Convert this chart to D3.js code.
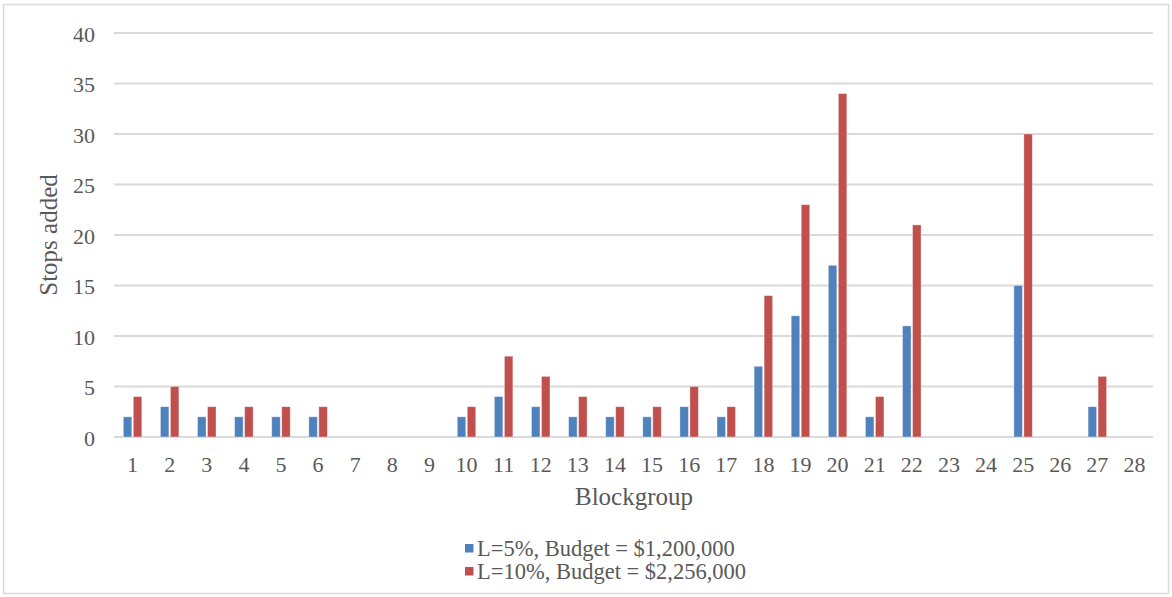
<!DOCTYPE html>
<html>
<head>
<meta charset="utf-8">
<script src="https://cdn.jsdelivr.net/npm/d3@7"></script>
<style>
  html, body { margin: 0; padding: 0; background: #fff; }
  svg { display: block; }
  text { font-family: "Liberation Serif", "Times New Roman", serif; fill: #595959; }
</style>
</head>
<body>
<svg id="chart" width="1172" height="597"></svg>
<script>
// Blockgroup ids along the x axis
const blockgroups = d3.range(1, 29).map(String);
// Stops added per blockgroup, L = 5%
const stopsL5 = [2, 3, 2, 2, 2, 2, 0, 0, 0, 2, 4, 3, 2, 2, 2, 3, 2, 7, 12, 17, 2, 11, 0, 0, 15, 0, 3, 0];
// Stops added per blockgroup, L = 10%
const stopsL10 = [4, 5, 3, 3, 3, 3, 0, 0, 0, 3, 8, 6, 4, 3, 3, 5, 3, 14, 23, 34, 4, 21, 0, 0, 30, 0, 6, 0];
const yTicks = [0, 5, 10, 15, 20, 25, 30, 35, 40];
const seriesNames = ["L=5%, Budget = $1,200,000", "L=10%, Budget = $2,256,000"];
const seriesColors = ["#4f81bd", "#c0504d"];

const svg = d3.select("#chart");
const W = 1172, H = 597;
const plot = { left: 114, right: 1153, top: 33, bottom: 437 };
const FONT = '"Liberation Serif", "Times New Roman", serif';

// outer chart frame
svg.append("rect")
  .attr("x", 3.5).attr("y", 4.5)
  .attr("width", W - 7).attr("height", H - 8)
  .attr("fill", "#fff").attr("stroke", "#d9d9d9").attr("stroke-width", 1.5);

const x = d3.scaleBand().domain(blockgroups).range([plot.left, plot.right]).paddingInner(0).paddingOuter(0);
const y = d3.scaleLinear().domain([0, 40]).range([plot.bottom, plot.top]);

// horizontal gridlines
svg.append("g")
  .selectAll("line")
  .data(yTicks)
  .join("line")
  .attr("x1", plot.left).attr("x2", plot.right)
  .attr("y1", d => y(d)).attr("y2", d => y(d))
  .attr("stroke", "#d9d9d9").attr("stroke-width", 2);

// y axis labels
const yAxis = d3.axisLeft(y).tickValues(yTicks).tickSize(0).tickPadding(19);
const gy = svg.append("g").attr("transform", `translate(${plot.left},0)`).call(yAxis);
gy.select(".domain").remove();
gy.selectAll("text")
  .attr("dy", "0.38em")
  .style("font-family", FONT)
  .style("font-size", "22px").attr("fill", "#595959");

// x axis labels
const xAxis = d3.axisBottom(x).tickSize(0).tickPadding(35);
const gx = svg.append("g").attr("transform", `translate(0,${plot.bottom})`).call(xAxis);
gx.select(".domain").remove();
gx.selectAll("text")
  .attr("dy", "0")
  .style("font-family", FONT)
  .style("font-size", "22px").attr("fill", "#595959");

// clustered bars
const barW = 8.5, gap = 1.5;
const series = [stopsL5, stopsL10];
series.forEach((vals, si) => {
  const rows = blockgroups.map((b, i) => ({ b, v: vals[i] })).filter(d => d.v > 0);
  svg.append("g")
    .selectAll("rect")
    .data(rows)
    .join("rect")
    .attr("x", d => x(d.b) + x.bandwidth() / 2 + (si === 0 ? -(barW + gap / 2) : gap / 2))
    .attr("y", d => y(d.v))
    .attr("width", barW)
    .attr("height", d => y(0) - y(d.v))
    .attr("fill", seriesColors[si])
    .attr("stroke", "rgba(255,255,255,0.45)")
    .attr("stroke-width", 0.8);
});

// axis titles
svg.append("text")
  .attr("transform", `translate(57,235) rotate(-90)`)
  .attr("text-anchor", "middle")
  .style("font-size", "25px")
  .text("Stops added");

svg.append("text")
  .attr("x", 634)
  .attr("y", 505)
  .attr("text-anchor", "middle")
  .style("font-size", "25px")
  .text("Blockgroup");

// legend
seriesNames.forEach((name, i) => {
  const top = 544 + i * 23;
  svg.append("rect")
    .attr("x", 465).attr("y", top).attr("width", 8.5).attr("height", 8.5)
    .attr("fill", seriesColors[i]);
  svg.append("text")
    .attr("x", 477).attr("y", top + 12)
    .style("font-size", "22.5px")
    .text(name);
});
</script>
</body>
</html>
